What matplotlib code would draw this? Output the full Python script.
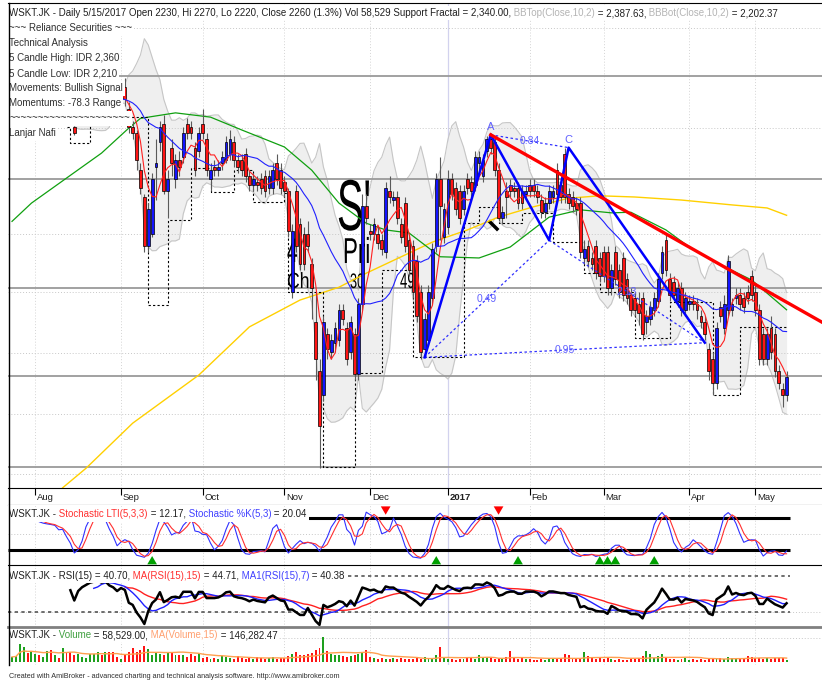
import numpy as np
import pandas as pd
import matplotlib
matplotlib.use("Agg")
import matplotlib.pyplot as plt
from matplotlib.lines import Line2D
from matplotlib.patches import PathPatch, Rectangle
from matplotlib.textpath import TextPath
from matplotlib.font_manager import FontProperties
from matplotlib.transforms import Affine2D

plt.rcParams['font.family'] = ['Liberation Sans', 'DejaVu Sans']

W, H = 822, 683  # picture size in pixels

# WSKT.JK daily bars: bar 0 = late Jul 2016 ... bar 199 = 15 May 2017
opens = [
    2670, 2680, 2690, 2700, 2710, 2705, 2710, 2720, 2715, 2720,
    2725, 2720, 2725, 2720, 2725, 2705, 2670, 2675, 2690, 2705,
    2715, 2725, 2730, 2735, 2730, 2735, 2725, 2720, 2700, 2735,
    2700, 2670, 2660, 2600, 2555, 2475, 2495, 2605, 2645, 2675,
    2565, 2635, 2585, 2615, 2620, 2675, 2670, 2635, 2630, 2675,
    2650, 2585, 2605, 2600, 2610, 2615, 2625, 2645, 2615, 2615,
    2625, 2590, 2575, 2580, 2585, 2590, 2570, 2570, 2610, 2600,
    2580, 2565, 2400, 2565, 2510, 2495, 2495, 2445, 2350, 2270,
    2230, 2330, 2300, 2315, 2320, 2370, 2340, 2300, 2330, 2265,
    2380, 2540, 2500, 2495, 2495, 2485, 2465, 2565, 2550, 2555,
    2510, 2545, 2485, 2475, 2450, 2400, 2305, 2320, 2390, 2475,
    2585, 2490, 2505, 2585, 2570, 2565, 2535, 2585, 2580, 2575,
    2610, 2590, 2630, 2650, 2645, 2600, 2520, 2565, 2575, 2570,
    2570, 2565, 2560, 2575, 2575, 2565, 2550, 2530, 2545, 2555,
    2600, 2575, 2625, 2560, 2555, 2545, 2545, 2455, 2475, 2455,
    2475, 2455, 2465, 2465, 2405, 2465, 2435, 2455, 2420, 2395,
    2390, 2380, 2390, 2350, 2355, 2370, 2385, 2430, 2485, 2420,
    2415, 2385, 2405, 2370, 2380, 2385, 2380, 2360, 2350, 2305,
    2290, 2250, 2375, 2340, 2370, 2370, 2390, 2395, 2390, 2400,
    2425, 2400, 2370, 2330, 2290, 2340, 2330, 2270, 2240, 2230,
]
highs = [
    2690, 2700, 2710, 2720, 2720, 2720, 2730, 2730, 2730, 2735,
    2735, 2735, 2735, 2735, 2735, 2715, 2672, 2700, 2715, 2725,
    2735, 2740, 2745, 2745, 2745, 2745, 2735, 2730, 2730, 2750,
    2710, 2680, 2665, 2610, 2560, 2545, 2595, 2650, 2680, 2690,
    2600, 2650, 2625, 2630, 2670, 2685, 2680, 2645, 2670, 2700,
    2660, 2610, 2615, 2615, 2630, 2655, 2665, 2655, 2625, 2625,
    2635, 2600, 2595, 2590, 2595, 2600, 2600, 2610, 2625, 2610,
    2590, 2570, 2510, 2575, 2520, 2505, 2515, 2455, 2400, 2290,
    2360, 2340, 2330, 2350, 2380, 2380, 2350, 2360, 2340, 2390,
    2560, 2560, 2510, 2520, 2505, 2495, 2580, 2590, 2565, 2565,
    2520, 2555, 2495, 2485, 2460, 2410, 2365, 2410, 2480, 2595,
    2620, 2545, 2600, 2595, 2580, 2575, 2575, 2595, 2590, 2630,
    2630, 2625, 2655, 2660, 2655, 2610, 2540, 2580, 2585, 2580,
    2580, 2575, 2575, 2585, 2585, 2575, 2560, 2555, 2575, 2575,
    2610, 2585, 2635, 2570, 2565, 2555, 2555, 2485, 2485, 2465,
    2485, 2465, 2475, 2475, 2445, 2475, 2445, 2465, 2430, 2405,
    2400, 2400, 2400, 2370, 2385, 2400, 2430, 2475, 2495, 2430,
    2425, 2415, 2415, 2400, 2395, 2395, 2390, 2370, 2360, 2315,
    2300, 2350, 2385, 2395, 2460, 2390, 2405, 2405, 2400, 2410,
    2435, 2410, 2380, 2340, 2340, 2360, 2340, 2280, 2250, 2270,
]
lows = [
    2662, 2672, 2682, 2692, 2695, 2695, 2700, 2705, 2705, 2710,
    2710, 2710, 2710, 2710, 2695, 2683, 2656, 2676, 2682, 2695,
    2705, 2715, 2720, 2720, 2720, 2715, 2710, 2700, 2690, 2705,
    2660, 2650, 2600, 2560, 2465, 2465, 2490, 2550, 2630, 2560,
    2520, 2590, 2570, 2590, 2610, 2650, 2650, 2590, 2620, 2650,
    2590, 2565, 2590, 2590, 2600, 2610, 2615, 2605, 2595, 2590,
    2580, 2565, 2565, 2565, 2560, 2555, 2560, 2560, 2575, 2560,
    2555, 2490, 2390, 2465, 2435, 2435, 2465, 2355, 2255, 2110,
    2220, 2290, 2290, 2300, 2310, 2345, 2280, 2290, 2255, 2255,
    2370, 2510, 2485, 2485, 2470, 2460, 2455, 2545, 2540, 2510,
    2480, 2465, 2425, 2390, 2350, 2290, 2295, 2310, 2380, 2465,
    2485, 2480, 2495, 2550, 2525, 2510, 2525, 2560, 2555, 2565,
    2600, 2580, 2620, 2625, 2590, 2515, 2510, 2520, 2555, 2555,
    2535, 2535, 2550, 2555, 2555, 2545, 2520, 2520, 2535, 2545,
    2550, 2545, 2545, 2535, 2530, 2525, 2455, 2445, 2440, 2435,
    2420, 2415, 2415, 2395, 2395, 2410, 2390, 2385, 2380, 2360,
    2360, 2345, 2320, 2330, 2345, 2360, 2375, 2420, 2425, 2385,
    2385, 2375, 2360, 2360, 2370, 2370, 2355, 2340, 2320, 2255,
    2230, 2240, 2350, 2330, 2360, 2360, 2380, 2370, 2365, 2380,
    2385, 2360, 2280, 2280, 2280, 2290, 2260, 2240, 2210, 2220,
]
closes = [
    2680, 2690, 2700, 2710, 2705, 2710, 2720, 2715, 2720, 2725,
    2720, 2725, 2720, 2725, 2705, 2690, 2660, 2690, 2705, 2715,
    2725, 2730, 2735, 2730, 2735, 2725, 2720, 2710, 2720, 2715,
    2670, 2660, 2615, 2570, 2475, 2535, 2585, 2610, 2670, 2565,
    2585, 2610, 2615, 2605, 2660, 2660, 2660, 2600, 2660, 2660,
    2600, 2600, 2600, 2605, 2620, 2645, 2650, 2615, 2605, 2600,
    2590, 2575, 2585, 2575, 2570, 2565, 2590, 2600, 2585, 2570,
    2565, 2500, 2500, 2475, 2445, 2445, 2475, 2405, 2290, 2180,
    2350, 2305, 2320, 2340, 2370, 2355, 2290, 2350, 2265, 2380,
    2540, 2520, 2495, 2510, 2480, 2470, 2570, 2555, 2555, 2520,
    2490, 2475, 2435, 2400, 2360, 2300, 2355, 2400, 2470, 2585,
    2540, 2535, 2585, 2560, 2535, 2520, 2565, 2570, 2565, 2620,
    2620, 2615, 2650, 2635, 2600, 2520, 2530, 2555, 2565, 2565,
    2545, 2545, 2565, 2565, 2565, 2555, 2530, 2545, 2565, 2565,
    2560, 2555, 2555, 2545, 2540, 2535, 2465, 2470, 2450, 2445,
    2430, 2425, 2425, 2405, 2435, 2420, 2400, 2395, 2390, 2370,
    2370, 2365, 2330, 2360, 2375, 2390, 2420, 2465, 2435, 2395,
    2395, 2405, 2370, 2390, 2385, 2380, 2370, 2350, 2330, 2270,
    2250, 2340, 2360, 2380, 2450, 2380, 2395, 2380, 2375, 2390,
    2395, 2370, 2290, 2290, 2330, 2300, 2270, 2250, 2230, 2260,
]
volume_k = [  # thousands of shares
    190, 220, 670, 560, 330, 410, 300, 260, 190, 410,
    440, 260, 150, 520, 370, 370, 260, 300, 190, 150,
    300, 300, 370, 260, 370, 370, 370, 190, 120, 260,
    370, 520, 370, 440, 600, 480, 260, 370, 300, 260,
    370, 370, 260, 260, 260, 190, 300, 220, 330, 150,
    190, 110, 150, 110, 220, 190, 150, 110, 220, 150,
    110, 150, 110, 190, 150, 110, 150, 190, 110, 150,
    150, 220, 300, 370, 260, 260, 300, 330, 440, 520,
    925, 400, 300, 260, 260, 220, 190, 220, 260, 300,
    370, 440, 190, 150, 110, 150, 110, 110, 150, 110,
    150, 110, 110, 110, 150, 110, 190, 110, 150, 260,
    555, 150, 110, 110, 75, 110, 110, 150, 150, 110,
    260, 150, 185, 150, 110, 150, 110, 190, 400, 150,
    110, 150, 110, 110, 75, 75, 110, 75, 110, 150,
    110, 150, 300, 260, 150, 110, 110, 370, 220, 150,
    110, 190, 110, 150, 110, 75, 110, 75, 75, 110,
    110, 150, 220, 400, 300, 150, 220, 300, 150, 110,
    110, 75, 110, 150, 75, 110, 75, 110, 75, 110,
    150, 150, 150, 110, 190, 150, 150, 150, 150, 220,
    190, 150, 150, 110, 150, 110, 150, 150, 150, 58.529,
]

month_idx = [6, 28, 49, 70, 92, 112, 133, 152, 174, 191]
month_lbl = ['Aug', 'Sep', 'Oct', 'Nov', 'Dec', '2017', 'Feb', 'Mar', 'Apr', 'May']

# long moving averages (history before bar 0 not available)
green_idx = [0, 5, 14, 23, 30, 33, 42, 51, 59, 70, 77, 84, 91, 96, 102, 110, 120,
             128, 138, 146, 154, 159, 168, 174, 181, 190, 199]
green_val = [2515, 2545, 2586, 2627, 2668, 2684, 2693, 2686, 2665, 2637, 2599, 2545,
             2512, 2501, 2496, 2457, 2455, 2473, 2522, 2534, 2529, 2530, 2501, 2473,
             2447, 2419, 2370]
yellow_idx = [13, 19, 31, 48, 61, 74, 84, 91, 100, 108, 117, 125, 134, 143, 151,
              160, 172, 185, 194, 199]
yellow_val = [2078, 2110, 2184, 2263, 2342, 2386, 2407, 2430, 2457, 2481, 2501, 2522,
              2539, 2553, 2557, 2555, 2550, 2542, 2537, 2525]

# support fractal step line
fract_idx = [14, 15, 20, 35, 40, 46, 51, 57, 62, 70, 71, 80, 88, 95, 103, 116, 120,
             125, 131, 139, 147, 151, 160, 169, 180, 187, 199]
fract_val = [2670, 2644, 2686, 2378, 2517, 2603, 2563, 2599, 2547, 2562, 2399, 2112,
             2266, 2435, 2293, 2512, 2539, 2512, 2529, 2481, 2430, 2399, 2324, 2383,
             2230, 2342, 2342]

# harmonic pattern X-A-B-C-D and its ratios
zz_idx = [106, 123, 138, 143, 178]
zz_val = [2292, 2657, 2484, 2636, 2316]
fib_links = [(0, 2, '0.49'), (1, 3, '0.84'), (0, 4, '0.95'), (2, 4, '2.13')]
trend_idx = [123, 208]
trend_val = [2657, 2350]

dotted_levels = [2832, 2668, 2494, 2399, 2299, 2199, 2100]
solid_levels = [2754, 2584, 2406, 2261, 2112]
stoch_buy = [36, 109, 130, 151, 153, 155, 165]
stoch_sell = [96, 125]

# ------------------------------------------------------------------
n = len(closes)
x = np.arange(n)
o, hi, lo, c = (np.array(a, float) for a in (opens, highs, lows, closes))
cs = pd.Series(c)
vol = np.array(volume_k, float)

ma5 = cs.rolling(5).mean()
ma20 = cs.rolling(20).mean()
bb_mid = cs.rolling(10).mean()
bb_sd = cs.rolling(10).std(ddof=0)
bb_top, bb_bot = bb_mid + 2 * bb_sd, bb_mid - 2 * bb_sd

ll = pd.Series(lo).rolling(5).min()
hh = pd.Series(hi).rolling(5).max()
stoch_k = (100 * (cs - ll) / (hh - ll)).rolling(3).mean()
stoch_d = stoch_k.rolling(3).mean()


def wilder_rsi(close, period=15):
    d = np.diff(close)
    g, l = np.clip(d, 0, None), np.clip(-d, 0, None)
    out = np.full(len(close), np.nan)
    ag, al = g[:period].mean(), l[:period].mean()
    out[period] = 100 - 100 / (1 + ag / al)
    for i in range(period + 1, len(close)):
        ag = (ag * (period - 1) + g[i - 1]) / period
        al = (al * (period - 1) + l[i - 1]) / period
        out[i] = 100 - 100 / (1 + ag / al)
    return pd.Series(out)


rsi = wilder_rsi(c, 15)
rsi_ma15 = rsi.rolling(15).mean()
rsi_ma7 = rsi.rolling(7).mean()
vol_ma = pd.Series(vol).rolling(15, min_periods=1).mean()

XL = (-1.03, 208.1)
DARK = '#202020'

fig = plt.figure(figsize=(W / 100, H / 100), dpi=100)
fig.patch.set_facecolor('white')


def panel(top, bottom):
    a = fig.add_axes([8 / W, 1 - bottom / H, (W - 8) / W, (bottom - top) / H])
    a.set_xlim(*XL)
    a.set_xticks([])
    a.set_yticks([])
    for s in a.spines.values():
        s.set_visible(False)
    return a


def month_grid(a):
    for i, lab in zip(month_idx, month_lbl):
        if lab == '2017':
            a.axvline(i, color='#d2d2ee', lw=0.9, zorder=0.5)
        else:
            a.axvline(i, color='#d4d4d4', lw=0.7, ls=(0, (1, 2)), zorder=0.5)


# ---------------- main price panel ----------------
ax = panel(3, 488)
ax.set_ylim(2077.7, 2873.2)
ax.spines['top'].set_visible(True)
month_grid(ax)
for lv in dotted_levels:
    ax.axhline(lv, color='#c8c8c8', lw=0.7, ls=(0, (1, 2)), zorder=1.2)
for lv in solid_levels:
    ax.axhline(lv, color='#9a9a9a', lw=1.3, zorder=1.2)

ax.fill_between(x, bb_bot, bb_top, color='#efefef', lw=0, zorder=1)
ax.plot(x, bb_top, color='#c6c6c6', lw=0.8, zorder=1.1)
ax.plot(x, bb_bot, color='#c6c6c6', lw=0.8, zorder=1.1)

# big signal text, mostly hidden under the band in the original
fp = FontProperties(family='Liberation Sans')
for txt, px, py, size, sx in [("S'", 337, 230, 72, 0.55), ("Pri", 343, 263, 36, 0.62),
                              ("4", 287, 262, 34, 0.56), ("Ch", 287, 288, 22, 0.8),
                              ("30", 350, 288, 21, 0.6), ("49", 400, 288, 22, 0.6)]:
    tp = TextPath((0, 0), txt, size=size, prop=fp)
    tr = Affine2D().scale(sx, 1.0).translate(px, H - py)
    ax.add_patch(PathPatch(tp, transform=tr, fc='black', ec='none', zorder=1.5))
ax.add_line(Line2D([490, 497], [H - 222, H - 229], transform=None, color='black',
                   lw=2.5, zorder=1.5))

ax.plot(yellow_idx, yellow_val, color='#ffd000', lw=1.0, zorder=2)
ax.plot(green_idx, green_val, color='#10a010', lw=0.9, zorder=2)
ax.step(fract_idx, fract_val, where='post', color='black', lw=0.8,
        ls=(0, (2, 2)), zorder=2.5)

up = c >= o
ax.vlines(x, lo, hi, color='#5a5a5a', lw=0.8, zorder=3)
ax.bar(x, np.maximum(np.abs(c - o), 1.5), bottom=np.minimum(o, c), width=0.72,
       color=np.where(up, '#1414ff', '#ff1414'), edgecolor='black', linewidth=0.5,
       zorder=3.5)

ax.plot(x, ma5, color='#ff2020', lw=0.8, zorder=4)
ax.plot(x, ma20, color='#2020ff', lw=0.8, zorder=4)

for i, j, lab in fib_links:
    ax.plot([zz_idx[i], zz_idx[j]], [zz_val[i], zz_val[j]], color='#3030ff', lw=0.9,
            ls=(0, (2, 2)), zorder=5)
    ax.text((zz_idx[i] + zz_idx[j]) / 2, (zz_val[i] + zz_val[j]) / 2, lab,
            color='#6060ff', fontsize=7.5, ha='center', va='center', zorder=5)
ax.plot(zz_idx, zz_val, color='#0000ff', lw=1.8, zorder=5.5)
for k, lab in [(1, 'A'), (3, 'C')]:
    ax.annotate(lab, (zz_idx[k], zz_val[k]), xytext=(0, 2), textcoords='offset points',
                ha='center', va='bottom', color='#6060ff', fontsize=8, zorder=6)
ax.plot(trend_idx, trend_val, color='#ff0000', lw=2.4, zorder=6)

# ---------------- month strip ----------------
axm = panel(488, 505)
axm.set_ylim(0, 1)
axm.spines['top'].set_visible(True)
axm.spines['bottom'].set_visible(True)
axm.vlines(month_idx, 0.6, 1, color='black', lw=0.8)
for i, lab in zip(month_idx, month_lbl):
    axm.text(i + 0.45, 0.45, lab, fontsize=6.8, color=DARK, ha='left', va='center',
             fontweight='bold' if lab == '2017' else 'normal')

# ---------------- stochastic ----------------
axs = panel(505, 565)
axs.set_ylim(-8, 104.4)
month_grid(axs)
axs.axhline(50, color='#c8c8c8', lw=0.7, ls=(0, (1, 2)))
axs.hlines([20, 80], XL[0], 199.9, color='black', lw=2.2, zorder=2)
axs.plot(x, stoch_k, color='#3030ff', lw=0.8, zorder=3)
axs.plot(x, stoch_d, color='#ff3030', lw=0.8, zorder=3)
arrow = 'simple,head_width=0.7,head_length=0.6,tail_width=0.3'
for i in stoch_buy:
    axs.annotate('', xy=(i, 14), xytext=(i, -5),
                 arrowprops=dict(arrowstyle=arrow, color='#00a000', lw=0), zorder=4)
for i in stoch_sell:
    axs.annotate('', xy=(i, 81), xytext=(i, 104),
                 arrowprops=dict(arrowstyle=arrow, color='#ff0000', lw=0), zorder=4)

# ---------------- RSI ----------------
axr = panel(565, 627)
axr.set_ylim(13.3, 82.2)
axr.spines['top'].set_visible(True)
month_grid(axr)
axr.axhline(30, color='#c8c8c8', lw=0.7, ls=(0, (1, 2)))
axr.hlines([30, 70], XL[0], 199.9, color='#555555', lw=1.2, ls=(0, (2, 2)), zorder=2)
axr.plot(x, rsi_ma15, color='#ff2020', lw=1.0, zorder=3)
axr.plot(x, rsi_ma7, color='#2020ff', lw=1.0, zorder=3)
axr.plot(x, rsi, color='black', lw=1.8, zorder=4)

# ---------------- volume ----------------
axv = panel(627, 665)
axv.set_ylim(-110, 1296)
axv.spines['top'].set_visible(True)
axv.spines['top'].set_color('#808080')
axv.spines['top'].set_linewidth(2)
month_grid(axv)
axv.axhline(900, color='#c8c8c8', lw=0.7, ls=(0, (1, 2)))
axv.bar(x, vol, width=0.5, color=np.where(up, '#1ea01e', '#ff1414'), zorder=2)
axv.plot(x, vol_ma, color='#ffa050', lw=1.0, zorder=3)

# ---------------- texts ----------------
rend = fig.canvas.get_renderer()


def text_width(s, size):
    t = fig.text(0, 0, s, fontsize=size)
    w = t.get_window_extent(rend).width
    t.remove()
    return w


def rich(px, py, pieces, size=7.0, box_h=15):
    # white box behind the whole line, then the coloured pieces on top of it
    full = ''.join(t for t, _ in pieces)
    w = text_width(full, size)
    fig.add_artist(Rectangle(((px - 1) / W, 1 - (py + box_h / 2) / H), (w + 3) / W,
                             box_h / H, transform=fig.transFigure, fc='white',
                             ec='none', zorder=4))
    prefix = ''
    for txt, col in pieces:
        off = text_width(prefix, size) if prefix else 0
        fig.text((px + off) / W, 1 - py / H, txt, color=col, fontsize=size,
                 ha='left', va='center', zorder=5)
        prefix += txt


GRAY = '#b4b4b4'
rich(9, 13, [("WSKT.JK - Daily 5/15/2017 Open 2230, Hi 2270, Lo 2220, Close 2260 (1.3%) "
              "Vol 58,529 Support Fractal = 2,340.00,", DARK),
             (" BBTop(Close,10,2)", GRAY), (" = 2,387.63,", DARK),
             (" BBBot(Close,10,2)", GRAY), (" = 2,202.37", DARK)], box_h=14)
info = ["~~~ Reliance Securities ~~~", "Technical Analysis", "5 Candle High: IDR 2,360",
        "5 Candle Low: IDR 2,210", "Movements: Bullish Signal", "Momentums: -78.3 Range",
        "~" * 21, "Lanjar Nafi"]
for k, line in enumerate(info):
    rich(9, 28 + 15 * k, [(line, '#303030')])

rich(9, 514, [("WSKT.JK -", DARK), (" Stochastic LTI(5,3,3)", '#ff3030'),
              (" = 12.17,", DARK), (" Stochastic %K(5,3)", '#4040ff'), (" = 20.04", DARK)])
rich(9, 576, [("WSKT.JK - RSI(15) = 40.70,", DARK), (" MA(RSI(15),15)", '#ff3030'),
              (" = 44.71,", DARK), (" MA1(RSI(15),7)", '#4040ff'), (" = 40.38", DARK)],
     box_h=14)
rich(9, 635, [("WSKT.JK -", DARK), (" Volume", '#40a040'), (" = 58,529.00,", DARK),
              (" MA(Volume,15)", '#ffa070'), (" = 146,282.47", DARK)], box_h=13)

fig.text(9 / W, 1 - 676 / H, "Created with AmiBroker - advanced charting and technical "
         "analysis software. http://www.amibroker.com", fontsize=5.2, color='#303030',
         ha='left', va='center')

fig.add_artist(Line2D([8.5 / W, 8.5 / W], [1 - 665 / H, 1 - 3 / H], color='black',
                      lw=1, zorder=10))

fig.savefig('out.png', dpi=100)
